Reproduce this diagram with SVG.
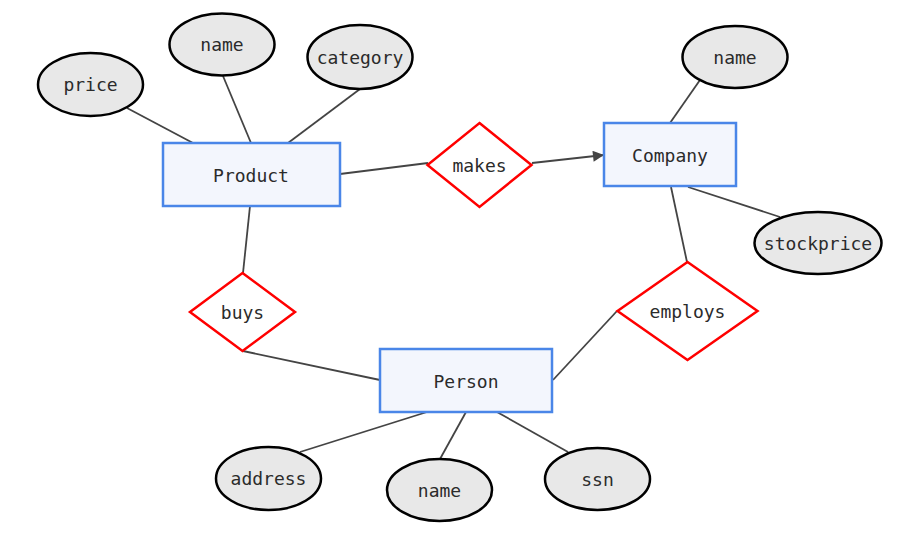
<svg xmlns="http://www.w3.org/2000/svg" width="910" height="536" viewBox="0 0 910 536">
<defs>
<style>
.ent{fill:#f3f6fd;stroke:#4a86e8;stroke-width:2.5}
.rel{fill:#ffffff;stroke:#ff0000;stroke-width:2.5}
.att{fill:#e8e8e8;stroke:#000000;stroke-width:2.5}
.lbl{font-family:"DejaVu Sans Mono","Liberation Mono",monospace;font-size:18px;fill:#2b2b2b;text-anchor:middle;dominant-baseline:central}
.edge{stroke:#444444;stroke-width:1.8;fill:none}
</style>
<marker id="arr" viewBox="0 0 10 10" refX="10" refY="5" markerWidth="12" markerHeight="11" markerUnits="userSpaceOnUse" orient="auto">
<path d="M0,0 L10,5 L0,10 z" fill="#444444"/>
</marker>
</defs>
<rect width="910" height="536" fill="#ffffff"/>
<g id="connectors">
<line class="edge" x1="127" y1="108" x2="193" y2="143"/>
<line class="edge" x1="223" y1="76" x2="251" y2="143"/>
<line class="edge" x1="360" y1="89" x2="288" y2="143"/>
<line class="edge" x1="340" y1="174" x2="428" y2="163"/>
<line class="edge" x1="532" y1="163" x2="604" y2="155" marker-end="url(#arr)"/>
<line class="edge" x1="700" y1="80" x2="670" y2="123"/>
<line class="edge" x1="688" y1="187" x2="780" y2="217"/>
<line class="edge" x1="671" y1="187" x2="687" y2="262"/>
<line class="edge" x1="617" y1="311" x2="553" y2="380"/>
<line class="edge" x1="250" y1="206" x2="243" y2="273"/>
<line class="edge" x1="243" y1="351" x2="380" y2="380"/>
<line class="edge" x1="427" y1="412" x2="300" y2="452"/>
<line class="edge" x1="466" y1="412" x2="440" y2="459"/>
<line class="edge" x1="497" y1="412" x2="568" y2="452"/>
</g>
<g id="Product"><rect class="ent" x="163" y="143" width="177" height="63"/><text class="lbl" x="251" y="175">Product</text></g>
<g id="Company"><rect class="ent" x="604" y="123" width="132" height="63"/><text class="lbl" x="670" y="155">Company</text></g>
<g id="Person"><rect class="ent" x="380" y="349" width="172" height="63"/><text class="lbl" x="466" y="381">Person</text></g>
<g id="makes"><polygon class="rel" points="479.5,123 531.5,165 479.5,207 427.5,165"/><text class="lbl" x="479.5" y="165">makes</text></g>
<g id="buys"><polygon class="rel" points="242.5,273 295,312 242.5,351 190,312"/><text class="lbl" x="242.5" y="312">buys</text></g>
<g id="employs"><polygon class="rel" points="687.5,262 757.5,311 687.5,360 617.5,311"/><text class="lbl" x="687.5" y="311">employs</text></g>
<g id="price"><ellipse class="att" cx="90.5" cy="84.5" rx="52.5" ry="31.5"/><text class="lbl" x="90.5" y="84.5">price</text></g>
<g id="product_name"><ellipse class="att" cx="222" cy="44.5" rx="52.5" ry="31"/><text class="lbl" x="222" y="44.5">name</text></g>
<g id="category"><ellipse class="att" cx="360" cy="57" rx="52.5" ry="32"/><text class="lbl" x="360" y="57">category</text></g>
<g id="company_name"><ellipse class="att" cx="735" cy="57" rx="52.5" ry="31"/><text class="lbl" x="735" y="57">name</text></g>
<g id="stockprice"><ellipse class="att" cx="818" cy="243" rx="63.5" ry="31"/><text class="lbl" x="818" y="243">stockprice</text></g>
<g id="address"><ellipse class="att" cx="268.5" cy="478.5" rx="52.5" ry="31.5"/><text class="lbl" x="268.5" y="478.5">address</text></g>
<g id="person_name"><ellipse class="att" cx="439.5" cy="490" rx="52.5" ry="31"/><text class="lbl" x="439.5" y="490">name</text></g>
<g id="ssn"><ellipse class="att" cx="597.5" cy="479" rx="52.5" ry="31"/><text class="lbl" x="597.5" y="479">ssn</text></g>
</svg>
